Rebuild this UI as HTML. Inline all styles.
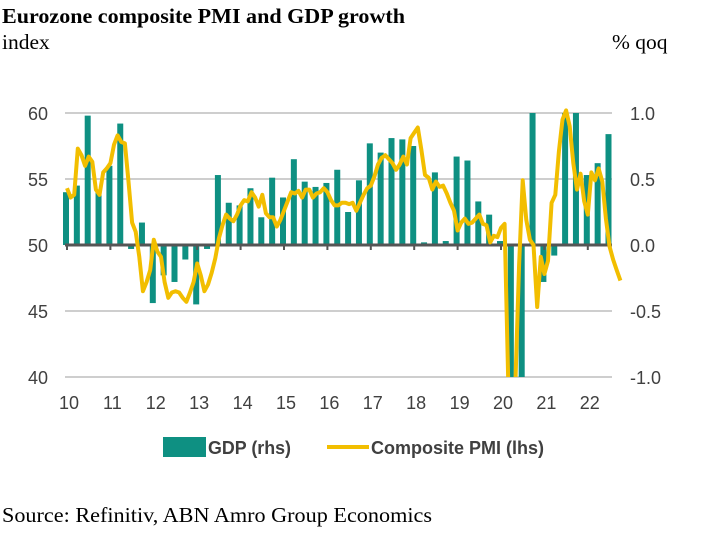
<!DOCTYPE html>
<html style="margin:0;width:702px;height:534px;overflow:hidden"><head><meta charset="utf-8"><style>
body{margin:0;background:#fff;width:702px;height:534px;overflow:hidden;position:relative}
svg{display:block;position:absolute;left:0;top:0}
.t{font-family:"Liberation Serif",serif;font-size:21.5px;fill:#000}
.ax{font-family:"Liberation Sans Narrow","Liberation Sans",sans-serif;font-size:18px;fill:#404040}
.lg{font-family:"Liberation Sans Narrow","Liberation Sans",sans-serif;font-size:18px;font-weight:bold;fill:#404040}
</style></head><body>
<svg id="c" width="702" height="534">
<text class="t" x="2" y="23" font-weight="bold" textLength="403" lengthAdjust="spacingAndGlyphs">Eurozone composite PMI and GDP growth</text>
<text class="t" x="2" y="49">index</text>
<text class="t" x="612" y="49">% qoq</text>
<text class="t" x="2" y="522" textLength="430" lengthAdjust="spacingAndGlyphs">Source: Refinitiv, ABN Amro Group Economics</text>
<g id="grid"></g><g id="bars"></g><g id="zero"></g><g id="line"></g><g id="labels"></g>
<g>
<rect x="163" y="437" width="43" height="20" fill="#0e9082"/>
<text class="lg" x="208" y="454" textLength="83" lengthAdjust="spacingAndGlyphs">GDP (rhs)</text>
<line x1="327" y1="447" x2="369" y2="447" stroke="#f2be00" stroke-width="4"/>
<text class="lg" x="371" y="454" textLength="173" lengthAdjust="spacingAndGlyphs">Composite PMI (lhs)</text>
</g>
</svg>
<script>
const years=["10","11","12","13","14","15","16","17","18","19","20","21","22"];
const leftTicks=[40,45,50,55,60];
const rightTicks=["-1.0","-0.5","0.0","0.5","1.0"];
const gdp=[0.4,0.45,0.98,0.42,0.6,0.92,-0.03,0.17,-0.44,-0.23,-0.28,-0.11,-0.45,-0.03,0.53,0.32,0.3,0.43,0.21,0.51,0.36,0.65,0.48,0.44,0.47,0.57,0.25,0.49,0.77,0.70,0.81,0.80,0.75,0.02,0.55,0.03,0.67,0.64,0.33,0.23,0.03,-3.7,-11.6,12.5,-0.28,-0.08,2.2,2.2,0.53,0.62,0.84];
const pmi=[54.3,53.6,53.8,57.3,56.8,56.0,56.7,56.3,54.2,53.8,55.5,55.8,56.2,57.6,58.3,57.8,57.7,54.8,51.7,51.0,49.1,46.5,47.2,48.1,50.4,49.5,49.1,47.2,46.0,46.4,46.5,46.4,46.0,45.7,46.4,47.2,48.6,47.7,46.5,47.0,47.9,49.0,50.5,51.5,52.3,52.0,51.8,52.3,53.0,53.4,53.3,54.0,53.6,52.9,53.8,52.4,52.1,52.1,51.4,51.9,52.6,53.3,54.0,53.9,54.1,53.6,54.2,54.2,53.6,53.9,54.0,54.3,54.0,53.4,53.0,53.0,53.2,53.2,53.1,53.2,52.6,53.2,53.8,54.3,54.5,55.2,56.1,56.6,56.8,56.5,56.2,55.7,56.1,56.7,56.1,58.1,58.5,58.9,57.2,55.3,55.1,54.2,54.8,54.4,54.5,53.9,53.2,52.6,51.1,51.7,52.0,51.6,51.7,52.0,52.3,51.6,51.5,50.2,50.7,50.6,51.3,51.6,29.7,13.6,30.5,48.5,54.9,51.9,50.4,50.0,45.3,49.1,47.8,48.8,53.2,53.8,57.1,59.5,60.2,59.0,56.2,54.2,55.4,53.3,52.3,55.5,54.9,55.8,54.8,52.0,49.9,48.9,48.1,47.3];
const NS="http://www.w3.org/2000/svg";
const X0=67,YW=43.4,TOP=113,BOT=377,L=65,R=612;
const xm=m=>X0+m*YW/12;
const xq=q=>X0-1+q*YW/4;
const yl=v=>245-(v-50)*13.2;
const yr=v=>245-v*132;
const clip=y=>Math.max(TOP,Math.min(BOT,y));
const clipL=y=>Math.max(100,Math.min(BOT+3,y));
function mk(tag,attrs,parent){const e=document.createElementNS(NS,tag);for(const k in attrs)e.setAttribute(k,attrs[k]);document.getElementById(parent).appendChild(e);return e;}
leftTicks.forEach((v,i)=>{
  if(v!==50){const g=mk('line',{x1:L,x2:R,y1:yl(v),y2:yl(v),stroke:'#b0b0b0','stroke-width':1.3},'grid');
  
  }
  const t=mk('text',{x:48,y:yl(v)+7,'text-anchor':'end',class:'ax'},'labels');t.textContent=v;
  
  
  const t2=mk('text',{x:630,y:yl(v)+7,class:'ax'},'labels');t2.textContent=rightTicks[i];
  
  
});
gdp.forEach((v,i)=>{
  const y0=yr(0),y1=clip(yr(v));
  const b=mk('rect',{x:xq(i)-3,width:6,y:Math.min(y0,y1),height:Math.max(0.8,Math.abs(y1-y0)),fill:'#0e9082'},'bars');
  
  
});
const z=mk('line',{x1:L,x2:R,y1:245,y2:245,stroke:'#555','stroke-width':3},'zero');


years.forEach((yv,i)=>{
  const tk=mk('line',{x1:X0+i*YW,x2:X0+i*YW,y1:245,y2:250,stroke:'#555','stroke-width':2},'zero');
  
  
  const t=mk('text',{x:X0+2+i*YW,y:409,'text-anchor':'middle',class:'ax'},'labels');t.textContent=yv;
  
  
});
mk('clipPath',{id:'pc'},'line').innerHTML='<rect x="60" y="100" width="570" height="'+(BOT-100)+'"/>';
const p=mk('polyline',{points:pmi.map((v,m)=>xm(m).toFixed(1)+','+clipL(yl(v)).toFixed(1)).join(' '),fill:'none',stroke:'#f2be00','stroke-width':4,'stroke-linejoin':'round','clip-path':'url(#pc)'},'line');


</script>
</body></html>
